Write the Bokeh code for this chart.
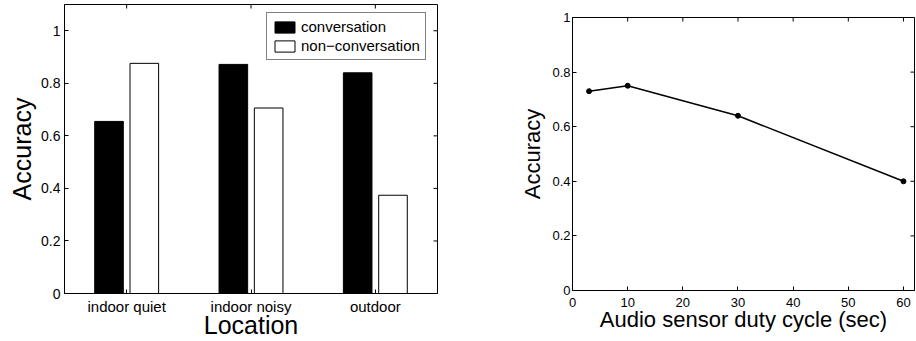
import math
from bokeh.plotting import figure
from bokeh.models import (FactorRange, Range1d, FixedTicker, ColumnDataSource, Legend, LegendItem)
from bokeh.transform import dodge
from bokeh.layouts import row
from bokeh.embed import file_html
from bokeh.resources import INLINE

# ---- data ----
locations = ["indoor quiet", "indoor noisy", "outdoor"]
series_names = ["conversation", "non\u2212conversation"]
conversation = [0.655, 0.872, 0.840]
non_conversation = [0.876, 0.706, 0.374]

duty_cycle = [3, 10, 30, 60]
duty_accuracy = [0.73, 0.75, 0.64, 0.40]

y_ticks = [0, 0.2, 0.4, 0.6, 0.8, 1.0]
x_ticks_right = [0, 10, 20, 30, 40, 50, 60]

FONT = "Liberation Sans"


def style_axis(ax, size, label_size):
    ax.major_tick_in = 4
    ax.major_tick_out = 0
    ax.minor_tick_in = 0
    ax.minor_tick_out = 0
    ax.axis_line_color = "black"
    ax.major_tick_line_color = "black"
    ax.major_label_text_font = FONT
    ax.major_label_text_font_size = size
    ax.major_label_text_color = "black"
    ax.axis_label_text_font = FONT
    ax.axis_label_text_font_style = "normal"
    ax.axis_label_text_color = "black"
    ax.axis_label_text_font_size = label_size


def no_frame_align(p):
    try:
        p.frame_align = False
    except Exception:
        pass


# ---- left: grouped bar chart ----
src = ColumnDataSource(dict(loc=locations, conv=conversation, nonconv=non_conversation))

y1_end = 1.1
p1 = figure(width=458, height=341, x_range=FactorRange(*locations, range_padding=0),
            y_range=Range1d(0, y1_end), output_backend="svg", toolbar_location=None,
            min_border_left=64, min_border_right=21, min_border_top=4, min_border_bottom=46)
no_frame_align(p1)
p1.xgrid.visible = False
p1.ygrid.visible = False
p1.outline_line_color = "black"
p1.outline_line_alpha = 1

r_conv = p1.vbar(x=dodge("loc", -0.142, range=p1.x_range), top="conv", width=0.23, source=src,
                 fill_color="black", line_color="black")
r_non = p1.vbar(x=dodge("loc", 0.142, range=p1.x_range), top="nonconv", width=0.23, source=src,
                fill_color="white", line_color="black")

# mirrored inside ticks on the top edge (dash markers clipped by the frame)
p1.scatter(x=locations, y=[y1_end] * len(locations), marker="dash", angle=math.pi / 2,
           size=8, line_color="black", line_width=1)
# mirrored inside ticks on the right edge
p1.scatter(x=dodge("loc", 0.5, range=p1.x_range), y="y",
           source=ColumnDataSource(dict(loc=[locations[-1]] * len(y_ticks), y=y_ticks)),
           marker="dash", size=8, line_color="black", line_width=1)

p1.yaxis.ticker = FixedTicker(ticks=y_ticks)
style_axis(p1.xaxis[0], "15px", "25px")
style_axis(p1.yaxis[0], "14px", "25px")
p1.xaxis.axis_label = "Location"
p1.yaxis.axis_label = "Accuracy"
p1.xaxis.major_label_standoff = 4
p1.xaxis.axis_label_standoff = -7
p1.yaxis.major_label_standoff = 4
p1.yaxis.axis_label_standoff = 2
p1.yaxis.major_label_overrides = {0: "0", 1: "1"}

legend = Legend(items=[LegendItem(label=series_names[0], renderers=[r_conv]),
                       LegendItem(label=series_names[1], renderers=[r_non])],
                location=(202, 233))
legend.label_text_font = FONT
legend.label_text_font_size = "15px"
legend.label_text_color = "black"
legend.glyph_width = 25
legend.glyph_height = 14
legend.label_height = 16
legend.spacing = 2
legend.padding = 5
legend.margin = 0
legend.label_standoff = 4
legend.border_line_color = "black"
legend.border_line_width = 1
legend.background_fill_alpha = 1
p1.add_layout(legend)

# ---- right: line chart ----
x2_end = 62
y2_end = 1
p2 = figure(width=458, height=341, x_range=Range1d(0, x2_end), y_range=Range1d(0, y2_end),
            output_backend="svg", toolbar_location=None,
            min_border_left=114, min_border_right=2, min_border_top=17, min_border_bottom=51)
no_frame_align(p2)
p2.xgrid.visible = False
p2.ygrid.visible = False
p2.outline_line_color = "black"
p2.line(duty_cycle, duty_accuracy, line_color="black", line_width=1.5)
p2.scatter(duty_cycle, duty_accuracy, size=5, fill_color="black", line_color="black")

p2.scatter(x=x_ticks_right, y=[y2_end] * len(x_ticks_right), marker="dash", angle=math.pi / 2,
           size=8, line_color="black", line_width=1)
p2.scatter(x=[x2_end] * len(y_ticks), y=y_ticks, marker="dash",
           size=8, line_color="black", line_width=1)

p2.xaxis.ticker = FixedTicker(ticks=x_ticks_right)
p2.yaxis.ticker = FixedTicker(ticks=y_ticks)
style_axis(p2.xaxis[0], "13px", "22px")
style_axis(p2.yaxis[0], "13px", "22px")
p2.xaxis.axis_label = "Audio sensor duty cycle (sec)"
p2.yaxis.axis_label = "Accuracy"
p2.xaxis.major_label_standoff = 7
p2.xaxis.axis_label_standoff = -3
p2.yaxis.major_label_standoff = 2
p2.yaxis.axis_label_standoff = 4
p2.yaxis.major_label_overrides = {0: "0", 1: "1"}

layout = row(p1, p2)
open("out.html", "w").write(file_html(layout, INLINE))
